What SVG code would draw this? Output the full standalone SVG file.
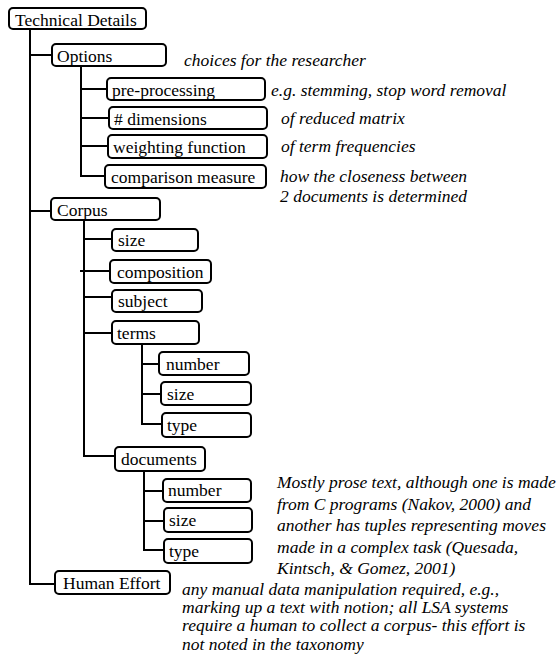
<svg xmlns="http://www.w3.org/2000/svg" width="556" height="654" viewBox="0 0 556 654">
<style>
.box{fill:#fff;stroke:#000;stroke-width:2;}
.lbl{font-family:'Liberation Serif','Times New Roman',Times,serif;font-size:17.5px;fill:#000;}
.note{font-family:'Liberation Serif','Times New Roman',Times,serif;font-size:17.5px;font-style:italic;fill:#000;}
.con{fill:none;stroke:#000;stroke-width:2;}
</style>
<rect width="556" height="654" fill="#fff"/>
<g id="connectors">
<path class="con" d="M30 29 V584 H55 M30 55 H52 M30 211 H51"/>
<path class="con" d="M81 66 V176 H105 M81 89 H107 M81 118 H109 M81 146 H108"/>
<path class="con" d="M84 221 V456 H115 M84 239 H112 M80 271 H110 M84 297 H112 M84 333 H112"/>
<path class="con" d="M142 344 V424 H162 M142 364 H159 M142 394 H161"/>
<path class="con" d="M144 471 V550 H164 M144 491 H163 M144 521 H164"/>
</g>
<g font-family="Liberation Serif, Times New Roman, serif" font-size="17.5">
<g id="technical-details"><rect class="box" x="9" y="8" width="137" height="21" rx="4"/><text class="lbl" x="15" y="25.5">Technical Details</text></g>
<g id="options"><rect class="box" x="52" y="44" width="114" height="22" rx="4"/><text class="lbl" x="57" y="61.5">Options</text></g>
<g id="pre-processing"><rect class="box" x="107" y="78" width="158" height="22" rx="4"/><text class="lbl" x="112" y="95.5">pre-processing</text></g>
<g id="dimensions"><rect class="box" x="109" y="107" width="158" height="22" rx="4"/><text class="lbl" x="114" y="124.5"># dimensions</text></g>
<g id="weighting-function"><rect class="box" x="108" y="135" width="159" height="23" rx="4"/><text class="lbl" x="113" y="153">weighting function</text></g>
<g id="comparison-measure"><rect class="box" x="105" y="165" width="161" height="23" rx="4"/><text class="lbl" x="111" y="183">comparison measure</text></g>
<g id="corpus"><rect class="box" x="51" y="198" width="109" height="22" rx="4"/><text class="lbl" x="57" y="216">Corpus</text></g>
<g id="corpus-size"><rect class="box" x="112" y="229" width="86" height="22" rx="4"/><text class="lbl" x="118" y="246">size</text></g>
<g id="composition"><rect class="box" x="110" y="260" width="101" height="23" rx="4"/><text class="lbl" x="117" y="278">composition</text></g>
<g id="subject"><rect class="box" x="112" y="290" width="90" height="22" rx="4"/><text class="lbl" x="118" y="307">subject</text></g>
<g id="terms"><rect class="box" x="112" y="321" width="87" height="23" rx="4"/><text class="lbl" x="117" y="339">terms</text></g>
<g id="terms-number"><rect class="box" x="159" y="352" width="90" height="23" rx="4"/><text class="lbl" x="166" y="370">number</text></g>
<g id="terms-size"><rect class="box" x="161" y="382" width="90" height="23" rx="4"/><text class="lbl" x="167" y="400">size</text></g>
<g id="terms-type"><rect class="box" x="162" y="413" width="89" height="24" rx="4"/><text class="lbl" x="167" y="431">type</text></g>
<g id="documents"><rect class="box" x="115" y="447" width="90" height="24" rx="4"/><text class="lbl" x="121" y="465">documents</text></g>
<g id="documents-number"><rect class="box" x="163" y="479" width="88" height="23" rx="4"/><text class="lbl" x="168" y="496">number</text></g>
<g id="documents-size"><rect class="box" x="164" y="508" width="88" height="24" rx="4"/><text class="lbl" x="169" y="526">size</text></g>
<g id="documents-type"><rect class="box" x="164" y="539" width="88" height="24" rx="4"/><text class="lbl" x="169" y="557">type</text></g>
<g id="human-effort"><rect class="box" x="55" y="571" width="115" height="23" rx="4"/><text class="lbl" x="63" y="589">Human Effort</text></g>
<g id="notes" font-style="italic">
<text class="note" x="184" y="66">choices for the researcher</text>
<text class="note" x="271" y="96">e.g. stemming, stop word removal</text>
<text class="note" x="281" y="124">of reduced matrix</text>
<text class="note" x="281" y="152">of term frequencies</text>
<text class="note" x="280" y="182">how the closeness between</text>
<text class="note" x="280" y="202">2 documents is determined</text>
<text class="note" x="277" y="488">Mostly prose text, although one is made</text>
<text class="note" x="277" y="509.5">from C programs (Nakov, 2000) and</text>
<text class="note" x="277" y="531">another has tuples representing moves</text>
<text class="note" x="277" y="552.5">made in a complex task (Quesada,</text>
<text class="note" x="277" y="574">Kintsch, &amp; Gomez, 2001)</text>
<text class="note" x="182" y="594.5">any manual data manipulation required, e.g.,</text>
<text class="note" x="182" y="612.8">marking up a text with notion; all LSA systems</text>
<text class="note" x="182" y="631.2">require a human to collect a corpus- this effort is</text>
<text class="note" x="182" y="649.5">not noted in the taxonomy</text>
</g>
</g>
</svg>
